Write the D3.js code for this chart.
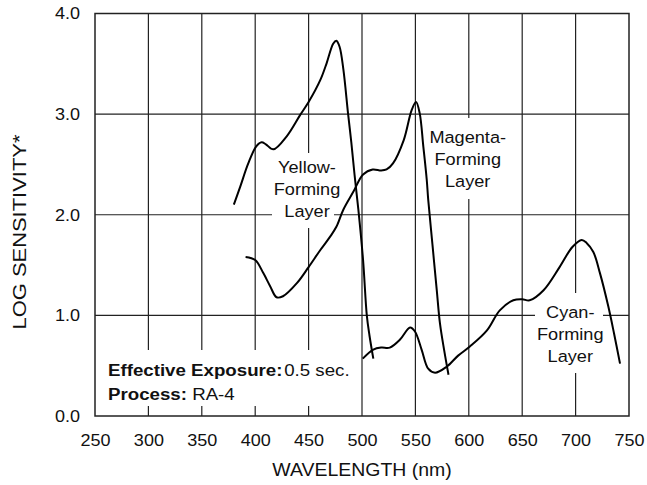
<!DOCTYPE html>
<html>
<head>
<meta charset="utf-8">
<script src="https://cdn.jsdelivr.net/npm/d3@7"></script>
<style>
  html, body { margin: 0; padding: 0; background: #fff; }
  svg text { font-family: "Liberation Sans", Arial, Helvetica, sans-serif; fill: #111; }
</style>
</head>
<body>
<svg id="chart" width="647" height="485"></svg>
<script>
// wavelength (nm) / log sensitivity
const yellowNm  = [380, 386, 393.5, 401, 406, 410, 417, 429.5, 442, 450, 461, 467, 473, 476, 479, 482.5, 487, 490, 493, 496.6, 501, 504.5, 507, 510.6];
const yellowVal = [2.1, 2.28, 2.51, 2.68, 2.72, 2.70, 2.65, 2.78, 2.99, 3.12, 3.34, 3.51, 3.70, 3.73, 3.67, 3.45, 3.0, 2.72, 2.4, 2.05, 1.55, 1.0, 0.8, 0.57];

const magentaNm  = [391, 400, 407.6, 414, 420, 426, 439, 450, 461, 470, 476, 482.5, 492, 501, 510, 518, 523, 529, 539, 546.5, 550.6, 554, 557.4, 560.6, 562, 566, 570, 573, 577, 581];
const magentaVal = [1.58, 1.55, 1.42, 1.29, 1.18, 1.19, 1.32, 1.48, 1.65, 1.78, 1.88, 2.05, 2.23, 2.40, 2.45, 2.44, 2.45, 2.51, 2.74, 3.04, 3.12, 3.01, 2.68, 2.35, 2.15, 1.7, 1.25, 0.92, 0.65, 0.41];

const cyanNm  = [500.7, 510.6, 518, 526, 535.6, 545, 549.6, 555.8, 562, 568.4, 579.3, 590, 601, 617, 629, 641.7, 650, 657, 670, 685, 697, 705.7, 710.3, 716.6, 722.8, 730.6, 736, 741.6];
const cyanVal = [0.57, 0.66, 0.68, 0.68, 0.76, 0.88, 0.84, 0.66, 0.47, 0.43, 0.49, 0.6, 0.69, 0.85, 1.05, 1.15, 1.16, 1.15, 1.25, 1.48, 1.68, 1.75, 1.72, 1.63, 1.42, 1.09, 0.82, 0.52];

const xTicks = [250, 300, 350, 400, 450, 500, 550, 600, 650, 700, 750];
const yTicks = [0, 1, 2, 3, 4];

const fontSize = 16.4;
const stretch = 1.1; // the reference type is a little wider than Arial

const svg = d3.select("#chart");

const x = d3.scaleLinear().domain([250, 750]).range([95, 629]);
const y = d3.scaleLinear().domain([0, 4]).range([416, 13.5]);

// widen glyphs about each text's own x so anchors stay put
function widen(sel, sx = stretch) {
    sel.each(function () {
        const t = d3.select(this);
        const x0 = +t.attr("x") || 0;
        t.attr("transform", `translate(${x0 * (1 - sx)},0) scale(${sx},1)`);
    });
}

// grid
const grid = svg.append("g").attr("stroke", "#222").attr("stroke-width", 1.2);
grid.selectAll("line.v")
    .data(xTicks.slice(1, -1))
    .enter().append("line")
    .attr("x1", d => x(d)).attr("x2", d => x(d))
    .attr("y1", y(0)).attr("y2", y(4));
grid.selectAll("line.h")
    .data(yTicks.slice(1, -1))
    .enter().append("line")
    .attr("x1", x(250)).attr("x2", x(750))
    .attr("y1", d => y(d)).attr("y2", d => y(d));

// white boxes that break the grid behind the labels
const boxes = [
    [272, 153, 62, 75],
    [428, 118, 82, 81],
    [535, 293, 68, 80],
    [103, 350, 255, 56]
];
svg.append("g").selectAll("rect")
    .data(boxes)
    .enter().append("rect")
    .attr("x", d => d[0]).attr("y", d => d[1])
    .attr("width", d => d[2]).attr("height", d => d[3])
    .attr("fill", "#fff");

// frame
svg.append("rect")
    .attr("x", x(250)).attr("y", y(4))
    .attr("width", x(750) - x(250)).attr("height", y(0) - y(4))
    .attr("fill", "none").attr("stroke", "#222").attr("stroke-width", 1.5);

// axes (labels only)
const xAxis = svg.append("g")
    .attr("transform", `translate(0,${y(0)})`)
    .call(d3.axisBottom(x).tickValues(xTicks).tickSize(0).tickPadding(18));
const yAxis = svg.append("g")
    .attr("transform", `translate(${x(250)},0)`)
    .call(d3.axisLeft(y).tickValues(yTicks).tickSize(0).tickPadding(15).tickFormat(d3.format(".1f")));
[xAxis, yAxis].forEach(a => {
    a.select(".domain").remove();
    a.selectAll("text")
        .attr("font-size", fontSize)
        .attr("font-family", "Liberation Sans, Arial, sans-serif")
        .attr("fill", "#111")
        .call(widen);
});

// curves
const line = d3.line()
    .x(d => x(d[0]))
    .y(d => y(d[1]))
    .curve(d3.curveCatmullRom.alpha(0.5));

const series = [
    d3.zip(yellowNm, yellowVal),
    d3.zip(magentaNm, magentaVal),
    d3.zip(cyanNm, cyanVal)
];
svg.append("g").selectAll("path")
    .data(series)
    .enter().append("path")
    .attr("d", line)
    .attr("fill", "none")
    .attr("stroke", "#000")
    .attr("stroke-width", 2);

// layer labels
const labels = [
    { nm: 448.5, base: 173.5, lines: ["Yellow-", "Forming", "Layer"] },
    { nm: 599, base: 143.5, lines: ["Magenta-", "Forming", "Layer"] },
    { nm: 695, base: 318.5, lines: ["Cyan-", "Forming", "Layer"] }
];
labels.forEach(l => {
    svg.append("text")
        .attr("x", x(l.nm))
        .attr("text-anchor", "middle")
        .attr("font-size", 16.5)
        .call(widen)
        .selectAll("tspan")
        .data(l.lines)
        .enter().append("tspan")
        .attr("x", x(l.nm))
        .attr("y", (d, i) => l.base + i * 22)
        .text(d => d);
});

// exposure note
const note1 = svg.append("text").attr("x", 108).attr("y", 376.5).attr("font-size", 17);
note1.append("tspan").attr("font-weight", "bold").text("Effective Exposure:");
note1.append("tspan").attr("dx", 1.5).text("0.5 sec.");
const note2 = svg.append("text").attr("x", 108).attr("y", 400.5).attr("font-size", 17);
note2.append("tspan").attr("font-weight", "bold").text("Process:");
note2.append("tspan").text(" RA-4");
widen(note1);
widen(note2);

// axis titles
svg.append("text")
    .attr("x", x(500)).attr("y", 476)
    .attr("text-anchor", "middle")
    .attr("font-size", 17.7)
    .text("WAVELENGTH (nm)")
    .call(widen);
svg.append("text")
    .attr("transform", "translate(26,232) rotate(-90)")
    .attr("text-anchor", "middle")
    .attr("font-size", 17.5)
    .attr("textLength", 195)
    .attr("lengthAdjust", "spacingAndGlyphs")
    .text("LOG SENSITIVITY*");
</script>
</body>
</html>
